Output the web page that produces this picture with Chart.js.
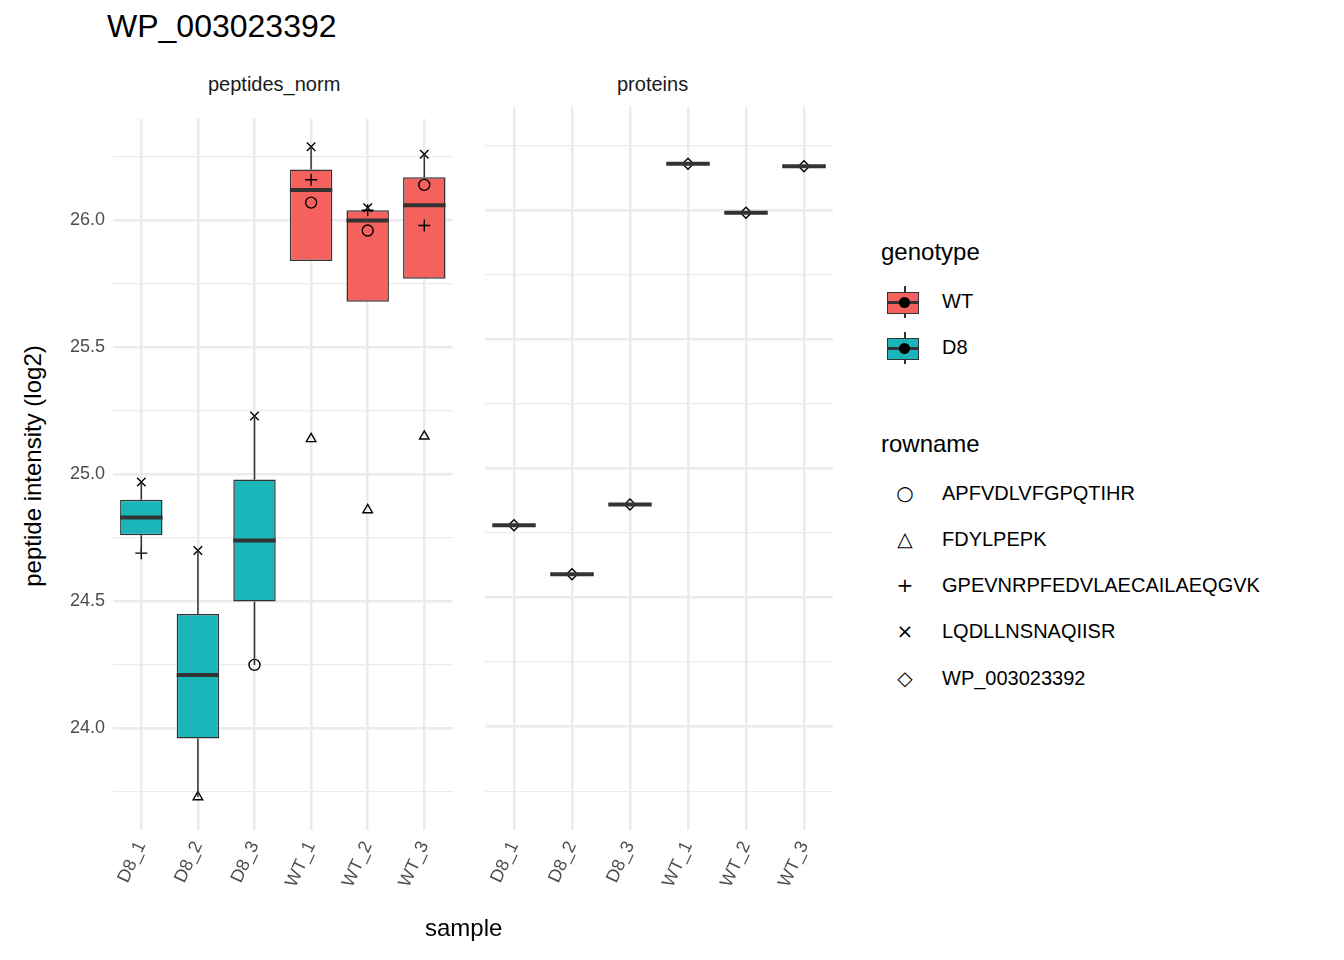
<!DOCTYPE html>
<html><head><meta charset="utf-8">
<script src="https://cdn.jsdelivr.net/npm/chart.js@4"></script>
<style>
body{margin:0;width:1344px;height:960px;background:#fff;font-family:"Liberation Sans",Arial,sans-serif;position:relative;overflow:hidden}
.abs{position:absolute;white-space:nowrap}
.key{position:absolute;width:34px;height:26px}
.box{position:absolute;left:5px;top:5px;width:32px;height:22px;border:1.5px solid #333;box-sizing:border-box}
</style></head><body>
<div class="abs" style="left:107px;top:8px;font-size:32px;color:#000">WP_003023392</div>
<div class="abs" style="left:208px;top:73px;font-size:20px;color:#1a1a1a">peptides_norm</div>
<div class="abs" style="left:617px;top:73px;font-size:20px;color:#1a1a1a">proteins</div>
<div class="abs" style="left:-92px;top:452px;font-size:24px;transform:rotate(-90deg);width:250px;text-align:center">peptide intensity (log2)</div>
<div id="legend"></div>
<div style="position:absolute;left:0;top:100px;width:460px;height:850px"><canvas id="c1"></canvas></div>
<div style="position:absolute;left:473px;top:100px;width:372px;height:850px"><canvas id="c2"></canvas></div>
<div class="abs" style="left:425px;top:914px;font-size:24px">sample</div>
<script>
const samples=["D8_1","D8_2","D8_3","WT_1","WT_2","WT_3"];
const genotype=["D8","D8","D8","WT","WT","WT"];
const q1=[24.76,23.96,24.50,25.84,25.68,25.77];
const med=[24.83,24.21,24.74,26.12,26.00,26.06];
const q3=[24.90,24.45,24.98,26.20,26.04,26.17];
const whiskerLo=[24.69,23.73,24.25,25.84,25.68,25.77];
const whiskerHi=[24.97,24.70,25.23,26.29,26.05,26.26];
const pepAPF=[null,null,24.25,26.07,25.96,26.14];
const pepFDY=[null,23.73,null,25.14,24.86,25.15];
const pepGPE=[24.69,null,null,26.16,26.04,25.98];
const pepLQD=[24.97,24.70,25.23,26.29,26.05,26.26];
const protWP=[24.78,24.59,24.86,26.18,25.99,26.17];
const colWT="#F5625D", colD8="#1AB5B8";

function pts(arr,style){return {type:'line',showLine:false,data:arr.slice(),spanGaps:false,
 pointStyle:style,pointRadius:style==='crossRot'||style==='cross'?6:5.5,borderColor:'#000',backgroundColor:'rgba(0,0,0,0)',pointBorderWidth:1.4,order:0};}

const boxPlugin={id:'boxp',afterDatasetsDraw(ch){
 const o=ch.options.plugins.boxp; if(!o||!o.med)return;
 const x=ch.scales.x,y=ch.scales.y,c=ch.ctx; c.save();
 const w=x.width/6*0.75;
 samples.forEach((s,i)=>{const px=x.getPixelForValue(i);
  if(o.whisk){c.strokeStyle='#333';c.lineWidth=1.5;c.beginPath();
   c.moveTo(px,y.getPixelForValue(q3[i]));c.lineTo(px,y.getPixelForValue(whiskerHi[i]));
   c.moveTo(px,y.getPixelForValue(q1[i]));c.lineTo(px,y.getPixelForValue(whiskerLo[i]));c.stroke();}
  const m=o.med[i];c.strokeStyle='#333';c.lineWidth=4;c.beginPath();
  c.moveTo(px-w/2,y.getPixelForValue(m));c.lineTo(px+w/2,y.getPixelForValue(m));c.stroke();
 });c.restore();},
 beforeDatasetsDraw(ch){}};
Chart.register(boxPlugin);

function isMajor(v){return Math.abs(v*2-Math.round(v*2))<1e-6;}
function opts(showY,extra,padL,padR){return {responsive:true,maintainAspectRatio:false,animation:false,
 layout:{padding:{left:padL,right:padR,top:5,bottom:0}},
 plugins:{legend:{display:false},tooltip:{enabled:false},boxp:extra},
 scales:{x:{type:'category',offset:true,border:{display:false},
   grid:{offset:false,color:'#ebebeb',lineWidth:2.5,drawTicks:false},
   ticks:{minRotation:65,maxRotation:65,color:'#4d4d4d',font:{size:18,family:'Liberation Sans'},padding:8},
   afterFit(s){s.height=120;}},
  y:{min:23.6,max:26.4,border:{display:false},
   afterBuildTicks(s){const t=[];for(let k=0;k<=10;k++)t.push({value:+(23.75+k*0.25).toFixed(2)});s.ticks=t;},
   grid:{drawTicks:false,color:'#ebebeb',lineWidth:c=>(c.tick&&isMajor(c.tick.value))?2.5:1.3},
   ticks:{display:showY,color:'#4d4d4d',font:{size:18,family:'Liberation Sans'},padding:8,
    callback:v=>isMajor(v)?v.toFixed(1):''},
   afterFit(s){s.width=showY?113:0;}}}};}

new Chart(document.getElementById('c1'),{data:{labels:samples,datasets:[
 {type:'bar',data:samples.map((s,i)=>[q1[i],q3[i]]),backgroundColor:genotype.map(g=>g==='WT'?colWT:colD8),
  borderColor:'#333',borderWidth:1.5,borderSkipped:false,barPercentage:0.75,categoryPercentage:1,order:2},
 pts(pepAPF,'circle'),pts(pepFDY,'triangle'),pts(pepGPE,'cross'),pts(pepLQD,'crossRot')]},
 options:opts(true,{whisk:true,med:med},0,2)});
new Chart(document.getElementById('c2'),{data:{labels:samples,datasets:[pts(protWP,'rectRot')]},
 options:opts(false,{whisk:false,med:protWP},12,12)});

const L=document.getElementById('legend');let h='';
h+='<div class="abs" style="left:881px;top:238px;font-size:24px">genotype</div>';
[["WT",colWT,302],["D8",colD8,348]].forEach(([n,c,y])=>{
 h+=`<div class="key" style="left:885px;top:${y-16}px"><div style="position:absolute;left:19px;top:0;width:1.5px;height:32px;background:#333"></div><div class="box" style="left:2px;top:6px;background:${c}"></div><div style="position:absolute;left:2px;top:15px;width:32px;height:2.5px;background:#333"></div><div style="position:absolute;left:14px;top:11px;width:11px;height:11px;border-radius:50%;background:#000"></div></div>`;
 h+=`<div class="abs" style="left:942px;top:${y-12}px;font-size:20px">${n}</div>`;});
h+='<div class="abs" style="left:881px;top:430px;font-size:24px">rowname</div>';
[["○","APFVDLVFGPQTIHR",494],["△","FDYLPEPK",540],["+","GPEVNRPFEDVLAECAILAEQGVK",586],["×","LQDLLNSNAQIISR",632],["◇","WP_003023392",679]].forEach(([s,n,y])=>{
 h+=`<div class="abs" style="left:893px;top:${y-13}px;width:24px;text-align:center;font-size:20px;font-family:'DejaVu Sans'">${s}</div>`;
 h+=`<div class="abs" style="left:942px;top:${y-12}px;font-size:20px">${n}</div>`;});
L.innerHTML=h;
</script></body></html>
